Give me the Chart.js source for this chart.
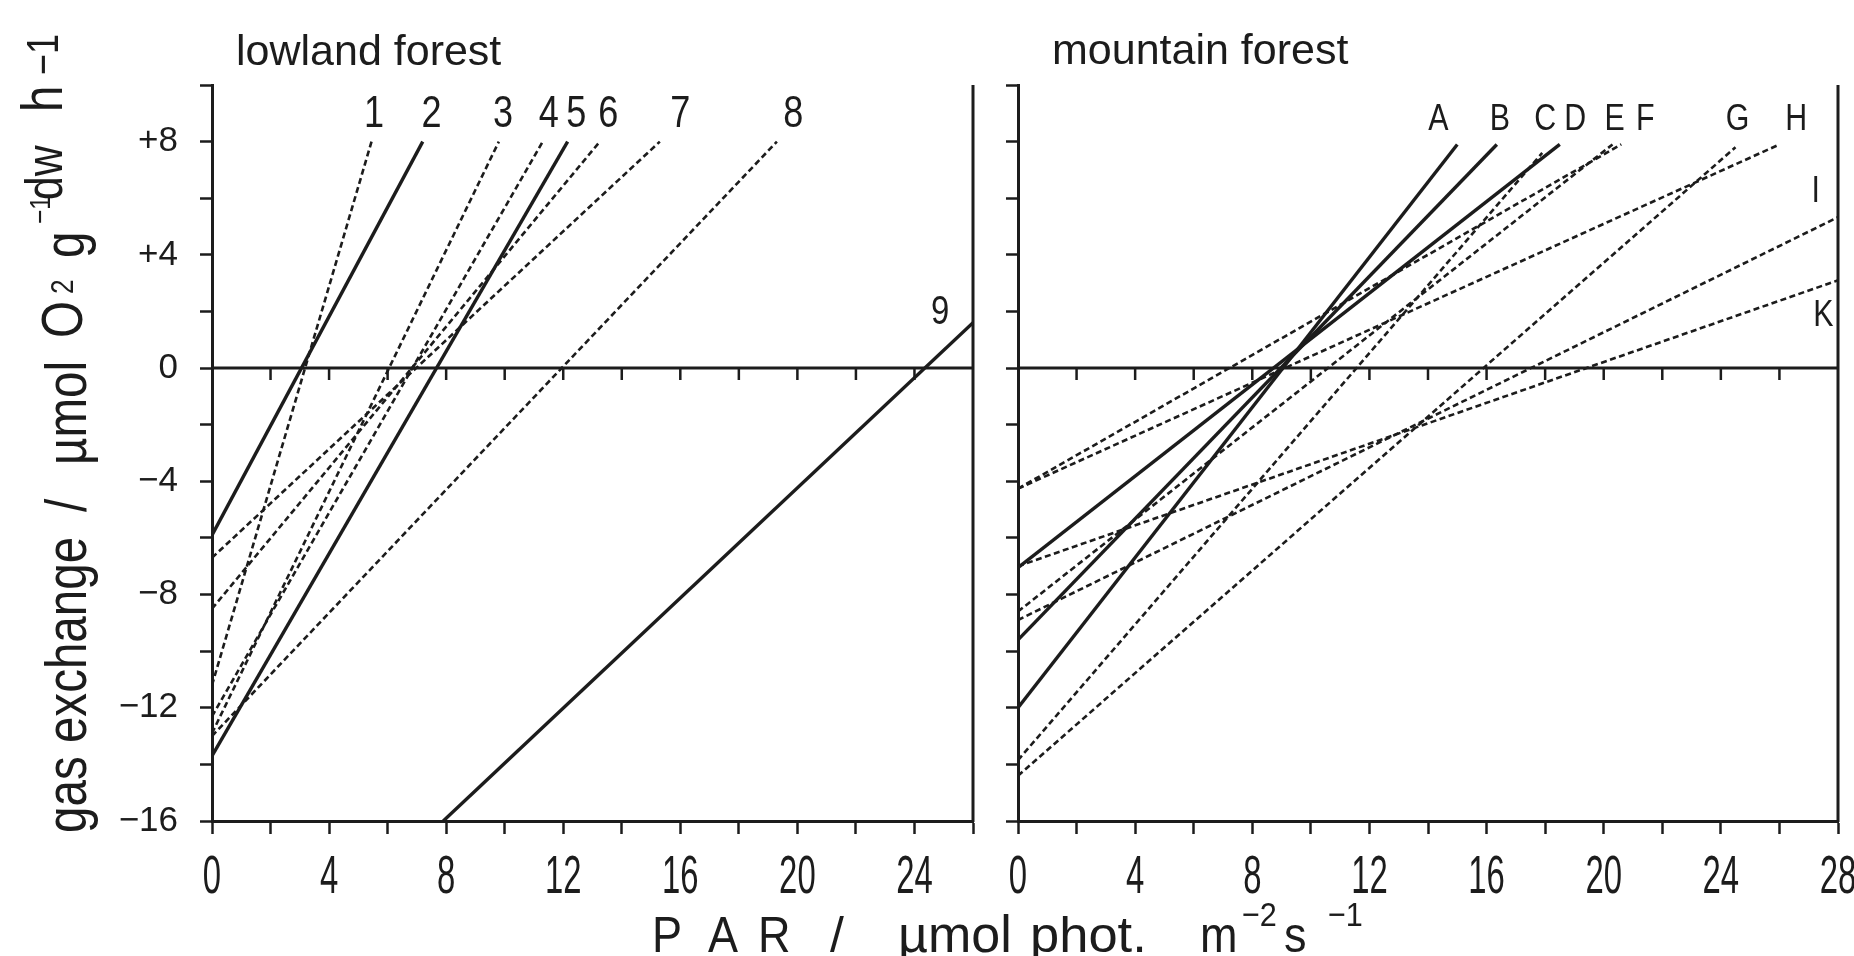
<!DOCTYPE html>
<html>
<head>
<meta charset="utf-8">
<title>gas exchange vs PAR</title>
<script src="https://cdn.jsdelivr.net/npm/chart.js@4.4.0/dist/chart.umd.min.js"></script>
<style>
  html, body { margin: 0; padding: 0; background: #fff; }
  #wrap { position: relative; width: 1854px; height: 956px; }
  #wrap canvas { position: absolute; left: 0; top: 0; }
</style>
</head>
<body>
<div id="wrap">
  <canvas id="lowland" width="1854" height="956"></canvas>
  <canvas id="mountain" width="1854" height="956"></canvas>
</div>
<script>
// lowland forest – every line from (x0, y0) to (x1, y1), PAR vs gas exchange
const lowNames  = ["1", "2", "3", "4", "5", "6", "7", "8", "9"];
const lowSolid  = [false, true, false, false, true, false, false, false, true];
const lowX0     = [0, 0, 0, 0, 0, 0, 0, 0, 7.9];
const lowY0     = [-11.2, -5.9, -12.9, -12.3, -13.7, -8.5, -6.7, -13.0, -16];
const lowX1     = [5.45, 7.2, 9.8, 11.3, 12.15, 13.25, 15.3, 19.3, 26];
const lowY1     = [8, 8, 8, 8, 8, 8, 8, 8, 1.6];
const lowNameX  = [5.54, 7.5, 9.94, 11.51, 12.45, 13.54, 16.0, 19.86, 24.88];
const lowNameY  = [8.94, 8.94, 8.94, 8.94, 8.94, 8.94, 8.94, 8.94, 1.96];

// mountain forest
const mtNames   = ["A", "B", "C", "D", "E", "F", "G", "H", "I", "K"];
const mtSolid   = [true, true, false, true, false, false, false, false, false, false];
const mtX0      = [0, 0, 0, 0, 0, 0, 0, 0, 0, 0];
const mtY0      = [-12.0, -9.6, -13.85, -7.05, -4.26, -8.6, -14.4, -4.26, -8.9, -7.0];
const mtX1      = [15.0, 16.35, 17.9, 18.5, 20.6, 20.3, 24.5, 26.0, 28, 28];
const mtY1      = [7.9, 7.9, 7.6, 7.9, 7.9, 7.9, 7.8, 7.9, 5.33, 3.1];
const mtNameX   = [14.35, 16.45, 18.0, 19.03, 20.37, 21.42, 24.57, 26.57, 27.24, 27.5];
const mtNameY   = [8.76, 8.76, 8.76, 8.76, 8.76, 8.76, 8.76, 8.76, 6.22, 1.83];

// axes
const yTickValues = [-16, -12, -8, -4, 0, 4, 8];
const yTickText   = ["\u221216", "\u221212", "\u22128", "\u22124", "0", "+4", "+8"];
const lowXTicks   = [0, 4, 8, 12, 16, 20, 24];
const mtXTicks    = [0, 4, 8, 12, 16, 20, 24, 28];

const INK = "#1c1c1c";
const SANS = '"Liberation Sans", Arial, sans-serif';

function drawText(ctx, text, x, y, size, opt = {}) {
    ctx.save();
    ctx.translate(x, y);
    if (opt.rotate) ctx.rotate(opt.rotate);
    ctx.scale(opt.sx ?? 0.82, 1);
    ctx.font = `${size}px ${SANS}`;
    ctx.fillStyle = INK;
    ctx.textAlign = opt.align || "left";
    ctx.textBaseline = opt.baseline || "alphabetic";
    ctx.fillText(text, 0, 0);
    ctx.restore();
}

// pieces of the axis titles (raised pieces are the superscripts)
const yTitleParts = [
    {t: "gas exchange", y: 833, x: 86, size: 58},
    {t: "/", y: 512, x: 86, size: 58},
    {t: "\u00b5mol", y: 465, x: 86, size: 58},
    {t: "O", y: 338, x: 82, size: 58},
    {t: "2", y: 294, x: 73, size: 32},
    {t: "g", y: 258, x: 84, size: 58},
    {t: "\u22121", y: 224, x: 50, size: 30},
    {t: "dw", y: 200, x: 62, size: 52},
    {t: "h", y: 112, x: 62, size: 58},
    {t: "\u22121", y: 75, x: 58, size: 44}
];
const xTitleParts = [
    {t: "P", x: 652, y: 952, size: 50, sx: 0.9},
    {t: "A", x: 708, y: 952, size: 50, sx: 0.9},
    {t: "R", x: 758, y: 952, size: 50, sx: 0.9},
    {t: "/", x: 830, y: 952, size: 50, sx: 1},
    {t: "\u00b5mol", x: 898, y: 952, size: 52, sx: 1},
    {t: "phot.", x: 1030, y: 952, size: 50, sx: 1.05},
    {t: "m", x: 1200, y: 952, size: 50, sx: 0.9},
    {t: "\u22122", x: 1242, y: 926, size: 34, sx: 0.9},
    {t: "s", x: 1284, y: 952, size: 50, sx: 0.9},
    {t: "\u22121", x: 1328, y: 926, size: 34, sx: 0.9}
];

function decor(draw) {
    return {
        id: "decor",
        afterDraw(chart) {
            const {ctx, chartArea: a, scales: {x, y}} = chart;
            ctx.save();
            ctx.strokeStyle = INK;
            ctx.lineWidth = 3;
            ctx.beginPath();
            ctx.moveTo(a.right, a.top);
            ctx.lineTo(a.right, a.bottom + 1);
            ctx.stroke();
            // little ticks hanging under the zero line
            const y0 = y.getPixelForValue(0);
            ctx.lineWidth = 2.5;
            ctx.beginPath();
            for (let v = 2; v < x.max; v += 2) {
                const px = x.getPixelForValue(v);
                ctx.moveTo(px, y0);
                ctx.lineTo(px, y0 + 12);
            }
            ctx.stroke();
            ctx.restore();
            draw(chart);
        }
    };
}

function panel(id, c) {
    const datasets = c.names.map((name, i) => ({
        label: name,
        data: [{x: c.x0[i], y: c.y0[i]}, {x: c.x1[i], y: c.y1[i]}],
        borderColor: INK,
        borderWidth: c.solid[i] ? 3.4 : 2.6,
        borderDash: c.solid[i] ? [] : [6, 3.5],
        pointRadius: 0,
        showLine: true,
        fill: false
    }));
    datasets.push({
        label: "zero",
        data: [{x: 0, y: 0}, {x: c.xMax, y: 0}],
        borderColor: INK,
        borderWidth: 3,
        pointRadius: 0,
        showLine: true
    });

    const evenTicks = (min, max) => (scale) => {
        const t = [];
        for (let v = min; v <= max; v += 2) t.push({value: v});
        scale.ticks = t;
    };

    return new Chart(document.getElementById(id), {
        type: "scatter",
        data: {datasets},
        options: {
            responsive: false,
            animation: false,
            devicePixelRatio: 1,
            events: [],
            layout: {padding: {left: 0, right: c.padRight, top: 85, bottom: 0}},
            plugins: {legend: {display: false}, tooltip: {enabled: false}},
            scales: {
                x: {
                    type: "linear",
                    min: 0,
                    max: c.xMax,
                    afterBuildTicks: evenTicks(0, c.xMax),
                    afterFit: (s) => { s.height = 135; },
                    border: {display: true, color: INK, width: 3},
                    grid: {drawOnChartArea: false, drawTicks: true, tickLength: 13, tickColor: INK, tickWidth: 2.5},
                    // labels are drawn narrow by the decor plugin below
                    ticks: {autoSkip: false, maxRotation: 0, minRotation: 0, callback: () => ""}
                },
                y: {
                    type: "linear",
                    min: -16,
                    max: 10,
                    afterBuildTicks: evenTicks(-16, 10),
                    afterFit: (s) => { s.width = c.yWidth; },
                    border: {display: true, color: INK, width: 3},
                    grid: {drawOnChartArea: false, drawTicks: true, tickLength: 12, tickColor: INK, tickWidth: 2.5},
                    ticks: {
                        autoSkip: false, padding: 22,
                        color: INK,
                        font: {family: SANS, size: 35},
                        callback: (v) => {
                            if (!c.yLabels) return "";
                            const i = yTickValues.indexOf(v);
                            return i >= 0 ? yTickText[i] : "";
                        }
                    }
                }
            }
        },
        plugins: [decor((chart) => {
            const {ctx, scales: {x, y}} = chart;
            c.xTicks.forEach((v) => {
                drawText(ctx, String(v), x.getPixelForValue(v), 893, 53, {align: "center", sx: 0.62});
            });
            c.names.forEach((name, i) => {
                drawText(ctx, name, x.getPixelForValue(c.nameX[i]), y.getPixelForValue(c.nameY[i]),
                    c.nameSize[i], {align: "center", baseline: "middle", sx: 0.82});
            });
            c.extra(ctx);
        })]
    });
}

panel("lowland", {
    names: lowNames, solid: lowSolid, x0: lowX0, y0: lowY0, x1: lowX1, y1: lowY1,
    nameX: lowNameX, nameY: lowNameY,
    nameSize: lowNames.map((n) => n === "9" ? 40 : 44),
    xMax: 26, xTicks: lowXTicks, yWidth: 212, padRight: 1854 - 973, yLabels: true,
    extra: (ctx) => {
        drawText(ctx, "lowland forest", 236, 65, 43, {sx: 1});
        yTitleParts.forEach((p) => drawText(ctx, p.t, p.x, p.y, p.size, {rotate: -Math.PI / 2}));
        xTitleParts.forEach((p) => drawText(ctx, p.t, p.x, p.y, p.size, {sx: p.sx}));
    }
});

panel("mountain", {
    names: mtNames, solid: mtSolid, x0: mtX0, y0: mtY0, x1: mtX1, y1: mtY1,
    nameX: mtNameX, nameY: mtNameY,
    nameSize: mtNames.map(() => 37),
    xMax: 28, xTicks: mtXTicks, yWidth: 1018, padRight: 1854 - 1838, yLabels: false,
    extra: (ctx) => {
        drawText(ctx, "mountain forest", 1052, 64, 43, {sx: 1});
    }
});
</script>
</body>
</html>
